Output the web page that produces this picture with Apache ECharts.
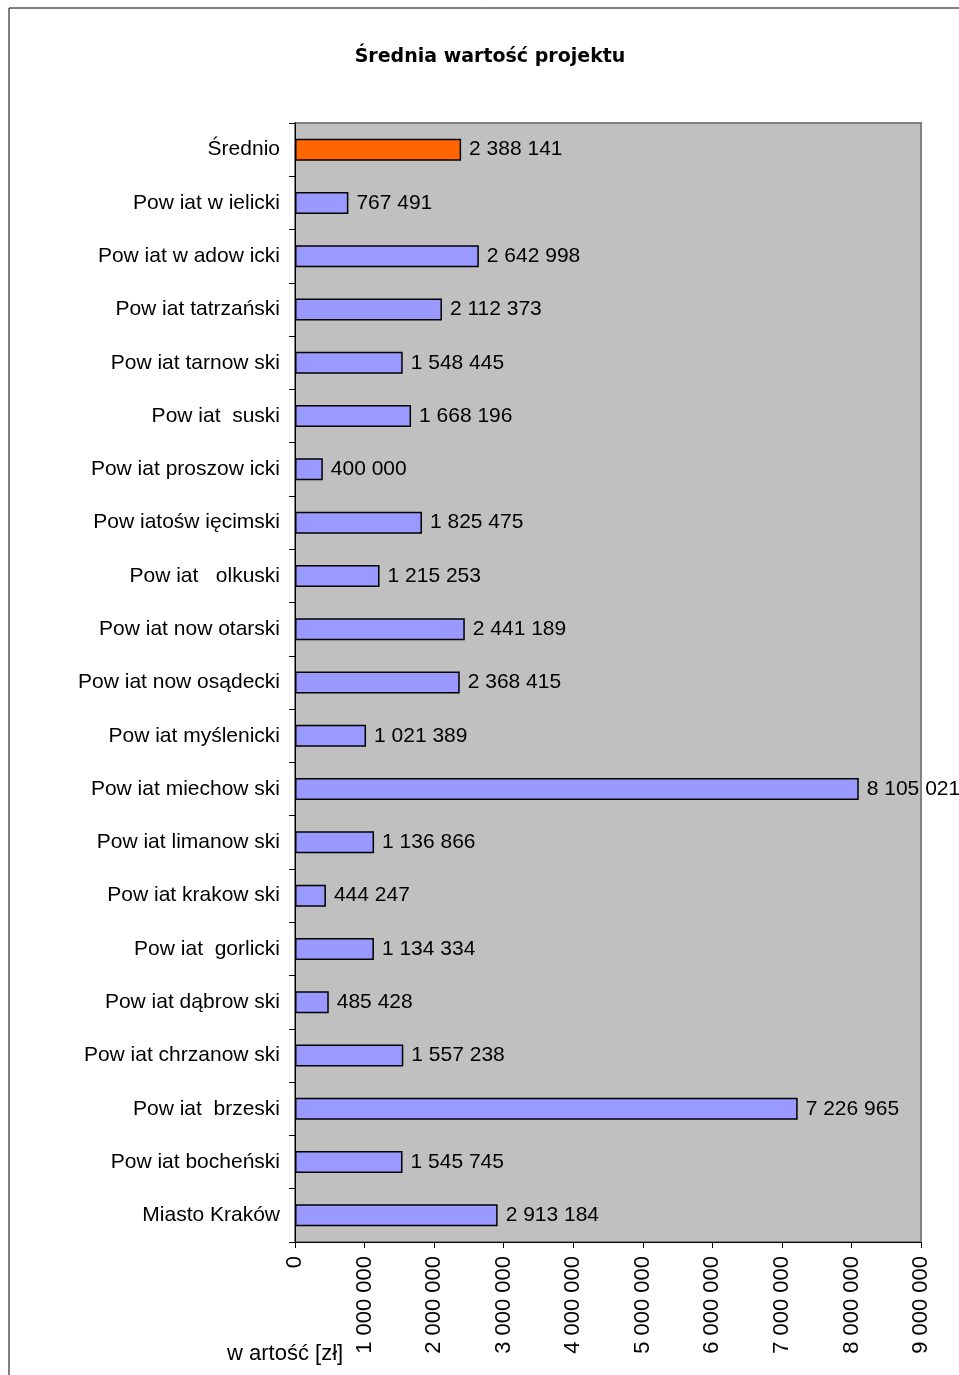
<!DOCTYPE html>
<html>
<head>
<meta charset="utf-8">
<script src="https://cdn.jsdelivr.net/npm/echarts@6/dist/echarts.min.js"></script>
<style>
html,body{margin:0;padding:0;background:#fff;}
#c{width:959px;height:1375px;}
</style>
</head>
<body>
<div id="c"></div>
<script>
var categories = [
  'Średnio',
  'Pow iat w ielicki',
  'Pow iat w adow icki',
  'Pow iat tatrzański',
  'Pow iat tarnow ski',
  'Pow iat  suski',
  'Pow iat proszow icki',
  'Pow iatośw ięcimski',
  'Pow iat   olkuski',
  'Pow iat now otarski',
  'Pow iat now osądecki',
  'Pow iat myślenicki',
  'Pow iat miechow ski',
  'Pow iat limanow ski',
  'Pow iat krakow ski',
  'Pow iat  gorlicki',
  'Pow iat dąbrow ski',
  'Pow iat chrzanow ski',
  'Pow iat  brzeski',
  'Pow iat bocheński',
  'Miasto Kraków'
];
var values = [
  2388141, 767491, 2642998, 2112373, 1548445, 1668196, 400000, 1825475,
  1215253, 2441189, 2368415, 1021389, 8105021, 1136866, 444247, 1134334,
  485428, 1557238, 7226965, 1545745, 2913184
];
var axisMin = 0, axisMax = 9000000, axisStep = 1000000;
var titleText = 'Średnia wartość projektu';
var axisTitle = 'w artość [zł]';

function fmt(v){
  return String(Math.round(v)).replace(/\B(?=(\d{3})+(?!\d))/g, ' ');
}

var font = 'Liberation Sans, Arial, sans-serif';
var chart = echarts.init(document.getElementById('c'), null, {renderer:'canvas'});
chart.setOption({
  animation:false,
  backgroundColor:'#fff',
  textStyle:{fontFamily:font},
  graphic:[
    {type:'rect', shape:{x:9, y:8, width:1000, height:1400}, style:{fill:'none', stroke:'#000', lineWidth:1}, z:-10},
    {type:'text', left:227, top:1343, style:{text:axisTitle, font:'22px '+font, fill:'#000'}}
  ],
  title:{
    text:titleText, left:485, top:43, textAlign:'center',
    textStyle:{fontFamily:'DejaVu Sans, sans-serif', fontSize:19, fontWeight:'bold', color:'#000'}
  },
  grid:{left:295, top:123, width:626, height:1119, show:true, backgroundColor:'#C0C0C0', borderColor:'#808080', borderWidth:2},
  xAxis:{
    type:'value', min:axisMin, max:axisMax, interval:axisStep,
    splitLine:{show:false},
    axisLine:{show:true, lineStyle:{color:'#000', width:1}},
    axisTick:{show:true, length:6, lineStyle:{color:'#000'}},
    axisLabel:{rotate:90, fontSize:22, color:'#000', margin:14, fontFamily:font, formatter:function(v){return fmt(v);}}
  },
  yAxis:{
    type:'category', data:categories, inverse:true,
    axisLine:{show:true, lineStyle:{color:'#000', width:1}},
    axisTick:{show:true, length:6, inside:false, alignWithLabel:false, lineStyle:{color:'#000'}},
    axisLabel:{fontSize:21, color:'#000', margin:15, fontFamily:font}
  },
  series:[{
    type:'bar', data:values.map(function(v,i){
      return {value:v, itemStyle:{color: i===0 ? '#FF6600' : '#9999FF'}};
    }),
    barWidth:22,
    itemStyle:{borderColor:'#000', borderWidth:1.5},
    label:{show:true, position:'right', distance:8, fontSize:21, color:'#000', fontFamily:font,
      formatter:function(p){return fmt(p.value);}}
  }]
});
</script>
</body>
</html>
